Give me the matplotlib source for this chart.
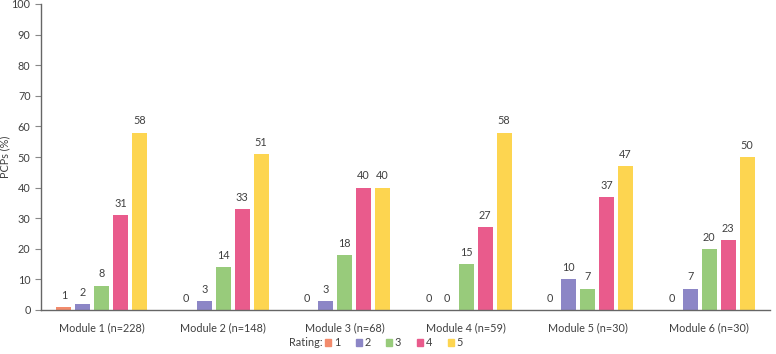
import matplotlib.pyplot as plt
import numpy as np
from matplotlib.patches import Patch

plt.rcParams["font.family"] = ["Lato", "DejaVu Sans"]

modules = [
    "Module 1 (n=228)",
    "Module 2 (n=148)",
    "Module 3 (n=68)",
    "Module 4 (n=59)",
    "Module 5 (n=30)",
    "Module 6 (n=30)",
]
ratings = ["1", "2", "3", "4", "5"]
rating_1 = [1, 0, 0, 0, 0, 0]
rating_2 = [2, 3, 3, 0, 10, 7]
rating_3 = [8, 14, 18, 15, 7, 20]
rating_4 = [31, 33, 40, 27, 37, 23]
rating_5 = [58, 51, 40, 58, 47, 50]
series = [rating_1, rating_2, rating_3, rating_4, rating_5]
colors = ["#F28B6C", "#8C86C6", "#98CB7B", "#E95B8C", "#FDD550"]

text_color = "#404040"
font_size = 7.8
figure = plt.figure(figsize=(7.76, 3.54), dpi=100)
axis = figure.add_axes([41 / 776, 1 - 310 / 354, 729 / 776, 306 / 354])

x = np.arange(len(modules))
step = 0.156
width = 0.123
for index, (values, color) in enumerate(zip(series, colors)):
    offset = (index - 2) * step
    bars = axis.bar(x + offset, values, width=width, color=color)
    for bar, value in zip(bars, values):
        axis.text(
            bar.get_x() + bar.get_width() / 2,
            value + 2,
            str(value),
            ha="center",
            va="bottom",
            fontsize=font_size,
            color=text_color,
        )

axis.set_xlim(-0.5, len(modules) - 0.5)
axis.set_ylim(0, 100)
axis.set_yticks(range(0, 101, 10))
axis.set_xticks(x, labels=modules)
axis.tick_params(axis="x", length=0, pad=9, labelsize=font_size, colors=text_color)
axis.tick_params(axis="y", length=4, labelsize=font_size, colors=text_color, color="#888888")
axis.set_ylabel("PCPs (%)", fontsize=font_size, color=text_color)
axis.yaxis.set_label_coords(-31 / 729, 0.5)
for side in ("top", "right"):
    axis.spines[side].set_visible(False)
for side in ("left", "bottom"):
    axis.spines[side].set_color("#666666")
    axis.spines[side].set_linewidth(1)

# legend: "Rating:" label followed by one row of swatches
figure.text(
    289 / 776, 1 - 343 / 354, "Rating:",
    ha="left", va="center", fontsize=font_size, color=text_color,
)
handles = [Patch(color=color, label=label) for color, label in zip(colors, ratings)]
legend = figure.legend(
    handles=handles,
    loc="center left",
    bbox_to_anchor=(325 / 776, 1 - 343 / 354),
    ncol=5,
    frameon=False,
    fontsize=font_size,
    handlelength=0.55,
    handleheight=0.55,
    handletextpad=0.25,
    columnspacing=1.45,
    borderaxespad=0,
    borderpad=0,
)
for text in legend.get_texts():
    text.set_color(text_color)

figure.savefig("out.png", dpi=100)
